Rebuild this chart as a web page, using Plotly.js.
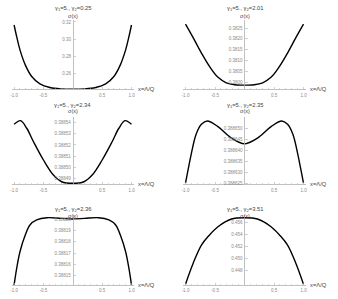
<!DOCTYPE html>
<html>
<head>
<meta charset="utf-8">
<script src="https://cdn.plot.ly/plotly-3.0.1.min.js"></script>
<style>html,body{margin:0;padding:0;background:#fff}#chart{width:338px;height:299px}</style>
</head>
<body>
<div id="chart"></div>
<script>
// ---- data ----
const gamma2 = ["0.25", "2.01", "2.34", "2.35", "2.36", "3.51"];

const x1 = [-1, -0.956, -0.9, -0.81, -0.7, -0.56, -0.39, -0.2, 0, 0.2, 0.39, 0.56, 0.7, 0.81, 0.9, 0.956, 1];
const y1 = [0.3165, 0.3030, 0.2877, 0.2704, 0.2569, 0.2484, 0.2442, 0.2426, 0.2423, 0.2426, 0.2442, 0.2484, 0.2569, 0.2704, 0.2877, 0.3030, 0.3165];

const x2 = [-1, -0.873, -0.732, -0.59, -0.449, -0.308, -0.166, 0, 0.166, 0.308, 0.449, 0.59, 0.732, 0.873, 1];
const y2 = [0.38268, 0.38207, 0.38136, 0.38072, 0.38023, 0.37998, 0.37989, 0.37987, 0.37989, 0.37998, 0.38023, 0.38072, 0.38136, 0.38207, 0.38268];

const x3 = [-1, -0.89, -0.785, -0.67, -0.50, -0.33, -0.19, 0, 0.19, 0.33, 0.50, 0.67, 0.785, 0.89, 1];
const y3 = [0.3885385, 0.3885418, 0.388535, 0.3885229, 0.3885065, 0.388493, 0.388487, 0.3884856, 0.388487, 0.388493, 0.3885065, 0.3885229, 0.388535, 0.3885418, 0.3885385];

const x4 = [-1, -0.95, -0.9, -0.82, -0.73, -0.63, -0.45, -0.22, 0, 0.22, 0.45, 0.63, 0.73, 0.82, 0.9, 0.95, 1];
const y4 = [0.388625, 0.388632, 0.3886386, 0.3886473, 0.3886518, 0.3886533, 0.3886507, 0.3886455, 0.3886429, 0.3886455, 0.3886507, 0.3886533, 0.3886518, 0.3886473, 0.3886386, 0.388632, 0.388625];

const x5 = [-1, -0.956, -0.9, -0.81, -0.73, -0.615, -0.44, -0.2, 0, 0.2, 0.44, 0.615, 0.73, 0.81, 0.9, 0.956, 1];
const y5 = [0.3881419, 0.3881566, 0.3881713, 0.3881861, 0.388195, 0.3881994, 0.3882014, 0.3882008, 0.3882003, 0.3882008, 0.3882014, 0.3881994, 0.388195, 0.3881861, 0.3881713, 0.3881566, 0.3881419];

const x6 = [-1, -0.87, -0.73, -0.6, -0.45, -0.22, 0, 0.22, 0.45, 0.6, 0.73, 0.87, 1];
const y6 = [0.44561, 0.44913, 0.45219, 0.4538, 0.45526, 0.45655, 0.45677, 0.45655, 0.45526, 0.4538, 0.45219, 0.44913, 0.44561];

const xTickVals = [-1, -0.5, 0.5, 1];
const xTickText = ["-1.0", "-0.5", "0.5", "1.0"];

const yTick1 = [0.26, 0.28, 0.30, 0.32];
const yText1 = ["0.26", "0.28", "0.30", "0.32"];
const yTick2 = [0.3800, 0.3805, 0.3810, 0.3815, 0.3820, 0.3825];
const yText2 = ["0.3800", "0.3805", "0.3810", "0.3815", "0.3820", "0.3825"];
const yTick3 = [0.38849, 0.38850, 0.38851, 0.38852, 0.38853, 0.38854];
const yText3 = ["0.38849", "0.38850", "0.38851", "0.38852", "0.38853", "0.38854"];
const yTick4 = [0.388625, 0.388630, 0.388635, 0.388640, 0.388645, 0.388650];
const yText4 = ["0.388625", "0.388630", "0.388635", "0.388640", "0.388645", "0.388650"];
const yTick5 = [0.38815, 0.38816, 0.38817, 0.38818, 0.38819, 0.38820];
const yText5 = ["0.38815", "0.38816", "0.38817", "0.38818", "0.38819", "0.38820"];
const yTick6 = [0.448, 0.450, 0.452, 0.454, 0.456];
const yText6 = ["0.448", "0.450", "0.452", "0.454", "0.456"];

const yRanges = [
  [0.2421, 0.3223],
  [0.37968, 0.38287],
  [0.3884847, 0.3885451],
  [0.3886245, 0.3886551],
  [0.3881419, 0.3882038],
  [0.445489, 0.457224]
];

// ---- layout helpers (pixels -> paper) ----
const W = 338, H = 299;
const px = v => v / W;
const py = v => 1 - v / H;

const xs = [x1, x2, x3, x4, x5, x6];
const ys = [y1, y2, y3, y4, y5, y6];
const yTicks = [yTick1, yTick2, yTick3, yTick4, yTick5, yTick6];
const yTexts = [yText1, yText2, yText3, yText4, yText5, yText6];

const cols = [{zero: 72.8, scale: 58.7}, {zero: 244.5, scale: 59}];
const rows = [
  {bottom: 89.3, top: 20, title: 8.8, sig: 15.6},
  {bottom: 184.3, top: 117, title: 105.2, sig: 111.4},
  {bottom: 285, top: 215, title: 209.4, sig: 215.6}
];

const axisGrey = '#b0b0b0';
const labelGrey = '#8a8a8a';
const textCol = '#444444';
const fontFam = 'Liberation Sans, Arial, sans-serif';

const traces = [];
const layout = {
  width: W, height: H,
  margin: {l: 0, r: 0, t: 0, b: 0},
  paper_bgcolor: '#fff', plot_bgcolor: 'rgba(0,0,0,0)',
  showlegend: false,
  annotations: []
};

for (let i = 0; i < 6; i++) {
  const r = rows[Math.floor(i / 2)];
  const c = cols[i % 2];
  const n = i + 1;
  const xa = 'xaxis' + (n === 1 ? '' : n);
  const ya = 'yaxis' + (n === 1 ? '' : n);
  const xr = 'x' + (n === 1 ? '' : n);
  const yr = 'y' + (n === 1 ? '' : n);

  traces.push({
    x: xs[i], y: ys[i], xaxis: xr, yaxis: yr,
    type: 'scatter', mode: 'lines',
    line: {color: '#000', width: 1.4, shape: 'spline', smoothing: 1.0},
    hoverinfo: 'skip'
  });

  const left = c.zero - 1.04 * c.scale;
  const right = c.zero + 1.04 * c.scale;

  layout[xa] = {
    domain: [px(left), px(right)],
    range: [-1.04, 1.04],
    anchor: yr,
    showgrid: false, zeroline: false,
    showline: true, linecolor: axisGrey, linewidth: 0.8,
    tickvals: xTickVals, ticktext: xTickText,
    ticks: 'inside', ticklen: 2.5, tickcolor: axisGrey, tickwidth: 0.6,
    minor: {tickvals: [-0.9,-0.8,-0.7,-0.6,-0.4,-0.3,-0.2,-0.1,0.1,0.2,0.3,0.4,0.6,0.7,0.8,0.9], ticks: 'inside', ticklen: 1.5, tickcolor: axisGrey, tickwidth: 0.5, showgrid: false},
    tickfont: {size: 4.5, color: labelGrey, family: fontFam},
    ticklabelstandoff: 1,
    fixedrange: true
  };
  layout[ya] = {
    domain: [py(r.bottom), py(r.top)],
    range: yRanges[i],
    anchor: 'free', position: px(c.zero),
    showgrid: false, zeroline: false,
    showline: true, linecolor: axisGrey, linewidth: 0.8,
    tickvals: yTicks[i], ticktext: yTexts[i],
    ticks: 'inside', ticklen: 2.5, tickcolor: axisGrey, tickwidth: 0.6,
    tickfont: {size: 4.5, color: labelGrey, family: fontFam},
    ticklabelstandoff: 1,
    fixedrange: true
  };

  layout.annotations.push({
    xref: 'paper', yref: 'paper', x: px(c.zero), y: py(r.title),
    text: 'γ<sub>1</sub>=5., γ<sub>2</sub>=' + gamma2[i],
    showarrow: false, xanchor: 'center', yanchor: 'middle',
    font: {size: 5.8, color: textCol, family: fontFam}
  });
  layout.annotations.push({
    xref: 'paper', yref: 'paper', x: px(c.zero), y: py(r.sig),
    text: 'σ(x)',
    showarrow: false, xanchor: 'center', yanchor: 'middle',
    font: {size: 5.5, color: textCol, family: fontFam}
  });
  layout.annotations.push({
    xref: 'paper', yref: 'paper', x: px(right + 2), y: py(r.bottom),
    text: 'x=Λ/Q',
    showarrow: false, xanchor: 'left', yanchor: 'middle',
    font: {size: 5.8, color: textCol, family: fontFam}
  });
}

Plotly.newPlot('chart', traces, layout, {staticPlot: true, displayModeBar: false});
</script>
</body>
</html>
